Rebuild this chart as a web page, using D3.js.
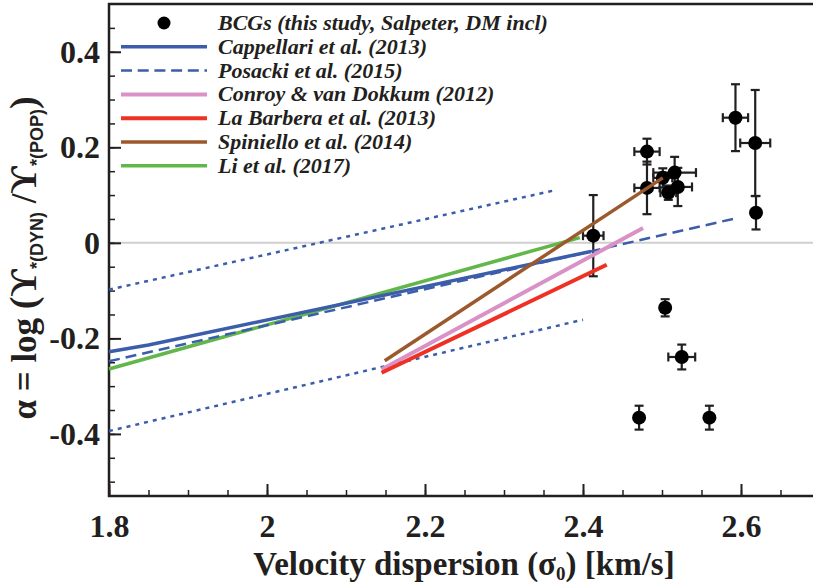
<!DOCTYPE html>
<html>
<head>
<meta charset="utf-8">
<script src="https://cdn.jsdelivr.net/npm/d3@7"></script>
<style>
  html, body { margin: 0; padding: 0; background: #fff; }
  svg { display: block; }
  .tick text { font-family: "Liberation Serif", "Times New Roman", serif; font-weight: bold; font-size: 32px; fill: #231f20; }
  .domain { display: none; }
</style>
</head>
<body>
<svg id="chart" width="813" height="585"></svg>
<script>
// BCG measurements: velocity dispersion (log) and alpha, with errors
const bcgSigma    = [2.413, 2.481, 2.481, 2.501, 2.516, 2.520, 2.508, 2.593, 2.618, 2.619, 2.504, 2.525, 2.471, 2.560];
const bcgAlpha    = [0.015, 0.191, 0.115, 0.136, 0.147, 0.117, 0.105, 0.262, 0.209, 0.063, -0.136, -0.239, -0.366, -0.366];
const bcgSigmaErr = [0.013, 0.016, 0.016, 0.012, 0.027, 0.018, 0.010, 0.016, 0.019, 0, 0, 0.017, 0, 0];
const bcgAlphaErr = [0.085, 0.027, 0.055, 0.020, 0.033, 0.040, 0.015, 0.070, 0.111, 0.035, 0.018, 0.026, 0.025, 0.025];

// literature relations, read as [sigma, alpha] end points
const cappellari   = [[1.8, -0.228], [1.85, -0.214], [2.41, -0.018]];
const posacki      = [[1.8, -0.248], [2.595, 0.052]];
const posackiUpper = [[1.8, -0.098], [2.367, 0.111]];
const posackiLower = [[1.8, -0.394], [2.4, -0.161]];
const conroy       = [[2.145, -0.265], [2.476, 0.031]];
const laBarbera    = [[2.145, -0.272], [2.430, -0.046]];
const spiniello    = [[2.149, -0.247], [2.501, 0.136]];
const li           = [[1.8, -0.264], [2.396, 0.011]];

const legendLabels = [
  "BCGs (this study, Salpeter, DM incl)",
  "Cappellari et al. (2013)",
  "Posacki et al. (2015)",
  "Conroy & van Dokkum (2012)",
  "La Barbera et al. (2013)",
  "Spiniello et al. (2014)",
  "Li et al. (2017)"
];

const xMajor = [1.8, 2.0, 2.2, 2.4, 2.6];
const yMajor = [-0.4, -0.2, 0, 0.2, 0.4];
const xMinor = d3.range(1.8, 2.71, 0.05);
const yMinor = d3.range(-0.5, 0.46, 0.05);

const ink = "#231f20";
const blue = "#3b5daa";

const svg = d3.select("#chart");

const x = d3.scaleLinear().domain([1.8, 2.7]).range([109, 820]);
const y = d3.scaleLinear().domain([-0.53, 0.5]).range([496, 4]);

// zero line
svg.append("line")
  .attr("x1", x(1.8)).attr("x2", x(2.7))
  .attr("y1", y(0)).attr("y2", y(0))
  .attr("stroke", "#cfcfcf").attr("stroke-width", 2);

// axes (ticks pointing inward), plain hyphen for negatives
const fmt = d => Math.abs(d) < 1e-9 ? "0" : String(+d.toFixed(1));

svg.append("g")
  .attr("transform", `translate(0,${y(-0.53)})`)
  .call(d3.axisBottom(x).tickValues(xMinor).tickSize(-6).tickFormat(""))
  .selectAll("line").attr("stroke", ink).attr("stroke-width", 1.5);

svg.append("g")
  .attr("transform", `translate(0,${y(-0.53)})`)
  .call(d3.axisBottom(x).tickValues(xMajor).tickSize(-12).tickPadding(18).tickFormat(fmt))
  .call(g => g.selectAll("line").attr("stroke", ink).attr("stroke-width", 2));

svg.append("g")
  .attr("transform", `translate(${x(1.8)},0)`)
  .call(d3.axisLeft(y).tickValues(yMinor).tickSize(-6).tickFormat(""))
  .selectAll("line").attr("stroke", ink).attr("stroke-width", 1.5);

svg.append("g")
  .attr("transform", `translate(${x(1.8)},0)`)
  .call(d3.axisLeft(y).tickValues(yMajor).tickSize(-12).tickPadding(9).tickFormat(fmt))
  .call(g => g.selectAll("line").attr("stroke", ink).attr("stroke-width", 2));

// frame
svg.append("rect")
  .attr("x", x(1.8)).attr("y", y(0.5))
  .attr("width", x(2.7) - x(1.8)).attr("height", y(-0.53) - y(0.5))
  .attr("fill", "none").attr("stroke", ink).attr("stroke-width", 2.5);

// BCG points with error bars
const bcg = bcgSigma.map((s, i) => ({ s, a: bcgAlpha[i], se: bcgSigmaErr[i], ae: bcgAlphaErr[i] }));
const cap = 4.5;
const pts = svg.append("g").attr("stroke", ink).attr("stroke-width", 2.2);

bcg.forEach(d => {
  const cx = x(d.s), cy = y(d.a);
  if (d.ae > 0) {
    pts.append("line").attr("x1", cx).attr("x2", cx).attr("y1", y(d.a - d.ae)).attr("y2", y(d.a + d.ae));
    [d.a - d.ae, d.a + d.ae].forEach(v =>
      pts.append("line").attr("x1", cx - cap).attr("x2", cx + cap).attr("y1", y(v)).attr("y2", y(v)));
  }
  if (d.se > 0) {
    pts.append("line").attr("y1", cy).attr("y2", cy).attr("x1", x(d.s - d.se)).attr("x2", x(d.s + d.se));
    [d.s - d.se, d.s + d.se].forEach(v =>
      pts.append("line").attr("y1", cy - cap).attr("y2", cy + cap).attr("x1", x(v)).attr("x2", x(v)));
  }
});

svg.append("g").selectAll("circle")
  .data(bcg)
  .join("circle")
  .attr("cx", d => x(d.s))
  .attr("cy", d => y(d.a))
  .attr("r", 7)
  .attr("fill", "#000");

// relations
const line = d3.line().x(d => x(d[0])).y(d => y(d[1]));

const relations = [
  { data: posackiUpper, color: blue, width: 2.5, dash: "4,5" },
  { data: posackiLower, color: blue, width: 2.5, dash: "4,5" },
  { data: li, color: "#62b74a", width: 3.5 },
  { data: cappellari, color: blue, width: 3.5 },
  { data: posacki, color: blue, width: 2.5, dash: "11,6" },
  { data: conroy, color: "#d991c6", width: 4 },
  { data: laBarbera, color: "#ee3124", width: 4 },
  { data: spiniello, color: "#9c5a2c", width: 3.5 }
];

relations.forEach(r => {
  svg.append("path")
    .datum(r.data)
    .attr("d", line)
    .attr("fill", "none")
    .attr("stroke", r.color)
    .attr("stroke-width", r.width)
    .attr("stroke-dasharray", r.dash || null);
});

// legend
const legendStyles = [
  null,
  { color: blue, width: 3.5 },
  { color: blue, width: 2.5, dash: "11,5.7" },
  { color: "#d991c6", width: 4 },
  { color: "#ee3124", width: 4 },
  { color: "#9c5a2c", width: 3.5 },
  { color: "#62b74a", width: 3.5 }
];

const legend = svg.append("g");
legendLabels.forEach((label, i) => {
  const cy = 23 + i * 23.8;
  const st = legendStyles[i];
  if (st) {
    legend.append("line")
      .attr("x1", 121).attr("x2", 207).attr("y1", cy).attr("y2", cy)
      .attr("stroke", st.color).attr("stroke-width", st.width)
      .attr("stroke-dasharray", st.dash || null);
  } else {
    legend.append("circle").attr("cx", 164).attr("cy", cy).attr("r", 6.5).attr("fill", "#000");
  }
  legend.append("text")
    .attr("x", 218).attr("y", cy + 7)
    .attr("font-family", "'Liberation Serif', 'Times New Roman', serif")
    .attr("font-weight", "bold").attr("font-style", "italic")
    .attr("font-size", 22).attr("fill", ink)
    .text(label);
});

// x-axis title
const xt = svg.append("text")
  .attr("x", 464).attr("y", 575)
  .attr("text-anchor", "middle")
  .attr("font-family", "'Liberation Serif', 'Times New Roman', serif")
  .attr("font-weight", "bold").attr("font-size", 33).attr("fill", ink);
xt.append("tspan").text("Velocity dispersion (σ");
xt.append("tspan").attr("font-size", 19).attr("dy", 5).text("0");
xt.append("tspan").attr("dy", -5).text(") [km/s]");

// y-axis title
const yt = svg.append("text")
  .attr("transform", "translate(36,258) rotate(-90)")
  .attr("text-anchor", "middle")
  .attr("font-family", "'Liberation Serif', 'Times New Roman', serif")
  .attr("font-weight", "bold").attr("font-size", 35).attr("fill", ink);
const sans = "'Liberation Sans', Arial, sans-serif";
yt.append("tspan").text("α = log ");
yt.append("tspan").attr("font-size", 38).text("(");
yt.append("tspan").attr("font-size", 38).text("ϒ");
yt.append("tspan").attr("font-family", sans).attr("font-size", 18).attr("dy", 7).text("*(DYN)");
yt.append("tspan").attr("dy", -7).text(" /");
yt.append("tspan").attr("font-size", 38).text("ϒ");
yt.append("tspan").attr("font-family", sans).attr("font-size", 18).attr("dy", 7).text("*(POP)");
yt.append("tspan").attr("font-size", 38).attr("dy", -7).text(")");
</script>
</body>
</html>
